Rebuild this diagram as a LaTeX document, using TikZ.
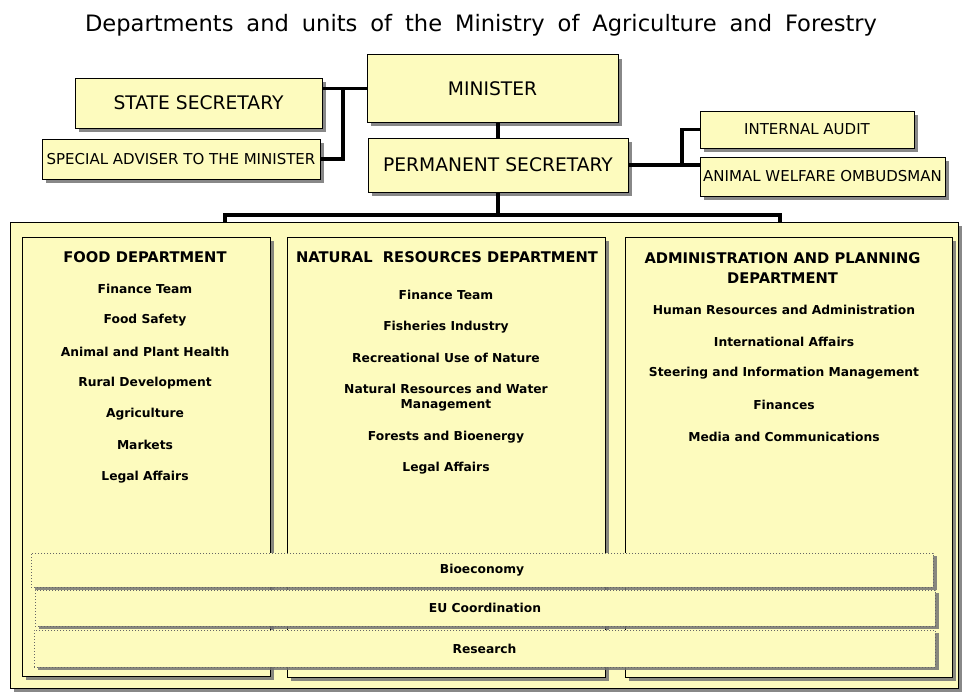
\documentclass[tikz,border=0pt]{standalone}
\usepackage{fontspec}
\setmainfont{DejaVu Sans}
\usetikzlibrary{shadows}
\definecolor{boxy}{RGB}{253,251,190}
\definecolor{shad}{RGB}{115,115,115}
\begin{document}
\begin{tikzpicture}[x=1pt,y=-1pt,
  box/.style={draw=black,line width=1pt,fill=boxy,inner sep=0pt,align=center,
    drop shadow={shadow xshift=4pt,shadow yshift=-4pt,fill=shad,opacity=0.85}},
  bar/.style={draw=black!60,dotted,line width=1pt,fill=boxy,inner sep=0pt,
    font=\fontsize{12.3}{15}\selectfont\bfseries,
    drop shadow={shadow xshift=4pt,shadow yshift=-3pt,fill=shad,opacity=0.85}},
  conn/.style={draw=black,line width=3.4pt},
  head/.style={inner sep=0pt,align=center,font=\fontsize{14.7}{20}\selectfont\bfseries},
  item/.style={inner sep=0pt,align=center,font=\fontsize{12.3}{15.5}\selectfont\bfseries},
  bigt/.style={font=\fontsize{18.7}{22}\selectfont},
  smallt/.style={font=\fontsize{15}{18}\selectfont}
]
\useasboundingbox (0,0) rectangle (968,693);

% title
\node[inner sep=0pt,font=\fontsize{22.6}{25}\selectfont] (title) at (481,25)
  {\makebox[792pt][s]{Departments and units of the Ministry of Agriculture and Forestry}};

% top boxes
\node[box,bigt,minimum width=251pt,minimum height=67pt] (min) at (492.5,88.5) {MINISTER};
\node[box,bigt,minimum width=260pt,minimum height=54pt] (ps) at (498,165) {PERMANENT SECRETARY};
\node[box,bigt,minimum width=247pt,minimum height=50pt] (ss) at (198.5,103) {STATE SECRETARY};
\node[box,smallt,minimum width=278pt,minimum height=40pt] (sa) at (181,159) {SPECIAL ADVISER TO THE MINISTER};
\node[box,smallt,minimum width=214pt,minimum height=37pt] (ia) at (807,129.5) {INTERNAL AUDIT};
\node[box,smallt,minimum width=245pt,minimum height=39pt] (aw) at (822.5,176.5) {ANIMAL WELFARE OMBUDSMAN};

% outer and department boxes
\node[box,minimum width=948pt,minimum height=466pt] (outer) at (484,455) {};
\node[box,minimum width=248pt,minimum height=439pt] (food) at (146,456.5) {};
\node[box,minimum width=318pt,minimum height=440pt] (nat) at (446,457) {};
\node[box,minimum width=327pt,minimum height=440pt] (adm) at (788.5,457) {};

% connectors
\coordinate (j1) at (343,88);
\coordinate (j2) at (682,125);
\coordinate (bl) at (225,215);
\coordinate (br) at (780,215);
\draw[conn] (ps.north) -- (ps.north |- min.south);
\draw[conn] (min.west) -- (min.west -| ss.east);
\draw[conn] (j1 |- min.west) -- (j1 |- sa.east) -- (sa.east);
\draw[conn] (ps.east) -- (ps.east -| aw.west);
\draw[conn] (j2 |- ps.east) -- (j2 |- ia.west) -- (ia.west);
\draw[conn] (ps.south) -- (ps.south |- bl);
\draw[conn] (bl |- outer.north) -- (bl) -- (br) -- (br |- outer.north);

% food department
\node[head] (fh) at (145,257) {FOOD DEPARTMENT};
\node[item] (f1) at (145,289) {Finance Team};
\node[item] (f2) at (145,320) {Food Safety};
\node[item] (f3) at (145,352) {Animal and Plant Health};
\node[item] (f4) at (145,383) {Rural Development};
\node[item] (f5) at (145,414) {Agriculture};
\node[item] (f6) at (145,445) {Markets};
\node[item] (f7) at (145,477) {Legal Affairs};

% natural resources department
\node[head] (nh) at (447,257) {NATURAL\ \ RESOURCES DEPARTMENT};
\node[item] (n1) at (446,295) {Finance Team};
\node[item] (n2) at (446,327) {Fisheries Industry};
\node[item] (n3) at (446,358) {Recreational Use of Nature};
\node[item] (n4) at (446,397.5) {Natural Resources and Water\\Management};
\node[item] (n5) at (446,437) {Forests and Bioenergy};
\node[item] (n6) at (446,468) {Legal Affairs};

% administration and planning department
\node[head] (ah) at (782.5,268) {ADMINISTRATION AND PLANNING\\DEPARTMENT};
\node[item] (a1) at (784,310) {Human Resources and Administration};
\node[item] (a2) at (784,342) {International Affairs};
\node[item] (a3) at (784,373) {Steering and Information Management};
\node[item] (a4) at (784,405) {Finances};
\node[item] (a5) at (784,437) {Media and Communications};

% cross-cutting bars
\node[bar,minimum width=902pt,minimum height=34pt] (bio) at (482,570) {Bioeconomy};
\node[bar,minimum width=900pt,minimum height=36pt] (eu) at (485,608) {EU Coordination};
\node[bar,minimum width=901pt,minimum height=37pt] (res) at (484.5,648.5) {Research};
\end{tikzpicture}
\end{document}
